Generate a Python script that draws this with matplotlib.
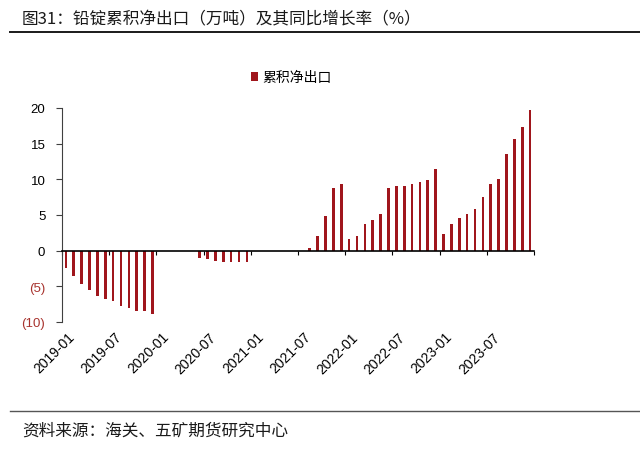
import numpy as np
import matplotlib
matplotlib.use('Agg')
import matplotlib.pyplot as plt
import matplotlib.transforms as mtransforms

plt.rcParams['font.family'] = ['Liberation Sans', 'Noto Sans CJK SC', 'DejaVu Sans']

# monthly categories 2019-01 .. 2023-12
months = [f"{y}-{m:02d}" for y in range(2019, 2024) for m in range(1, 13)]

# cumulative net export (10k tonnes)
net_2019 = [-2.4, -3.6, -4.7, -5.5, -6.3, -6.8, -7.1, -7.8, -8.0, -8.4, -8.5, -8.9]
net_2020 = [0, 0, 0, 0, 0, -1.1, -1.2, -1.5, -1.6, -1.6, -1.6, -1.6]
net_2021 = [0, 0, 0, 0, 0, 0, 0, 0.4, 2.0, 4.8, 8.8, 9.4]
net_2022 = [1.7, 2.0, 3.8, 4.3, 5.2, 8.8, 9.1, 9.1, 9.3, 9.6, 9.9, 11.5]
net_2023 = [2.3, 3.8, 4.6, 5.2, 5.8, 7.5, 9.3, 10.0, 13.6, 15.7, 17.4, 19.7]
net_export = net_2019 + net_2020 + net_2021 + net_2022 + net_2023

yticks = [-10, -5, 0, 5, 10, 15, 20]
ytick_labels = ['(10)', '(5)', '0', '5', '10', '15', '20']

bar_color = '#A0161C'
neg_color = '#A8332E'
cjk = ['Noto Sans CJK SC', 'DejaVu Sans']

fig = plt.figure(figsize=(6.4, 4.56), dpi=100)
ax = fig.add_axes([0.0969, 0.2917, 0.7375, 0.4693])

x = np.arange(len(months))
ax.bar(x, net_export, width=0.34, color=bar_color, label='累积净出口', zorder=2)

ax.set_xlim(-0.5, len(months) - 0.5)
ax.set_ylim(-10, 20)

# axes look
for side in ['top', 'right']:
    ax.spines[side].set_visible(False)
ax.spines['bottom'].set_position(('data', 0))
ax.spines['left'].set_color('#404040')
ax.spines['bottom'].set_color('black')
ax.spines['bottom'].set_linewidth(1.2)

ax.set_xticks(np.arange(-0.5, len(months), 6))
ax.tick_params(axis='x', direction='out', length=3, labelbottom=False, color='black')
ax.set_yticks(yticks)
ax.set_yticklabels(ytick_labels, fontsize=9.5)
ax.tick_params(axis='y', direction='out', length=4, color='#404040', pad=8)
for lbl, v in zip(ax.get_yticklabels(), yticks):
    lbl.set_color(neg_color if v < 0 else 'black')

# category labels every 6 months, under the plot
trans = mtransforms.blended_transform_factory(ax.transData, ax.transAxes)
for i in range(0, len(months), 6):
    ax.text(i + 0.2, -0.035, months[i], transform=trans, rotation=45,
            ha='right', va='top', rotation_mode='anchor', fontsize=10)

ax.legend(loc='center', bbox_to_anchor=(0.455, 0.828), bbox_transform=fig.transFigure,
          frameon=False, handlelength=0.55, handleheight=0.55, handletextpad=0.3,
          prop={'family': cjk, 'size': 10})

# title, source and rules
fig.text(0.034, 0.957, '图31：铅锭累积净出口（万吨）及其同比增长率（%）',
         fontsize=12, family=cjk, va='center', ha='left', color='#1A1A1A')
fig.add_artist(plt.Line2D([0.016, 1.0], [0.927, 0.927], color='#1A1A1A', lw=1.4))
fig.text(0.034, 0.055, '资料来源：海关、五矿期货研究中心',
         fontsize=12, family=cjk, va='center', ha='left', color='#1A1A1A')
fig.add_artist(plt.Line2D([0.016, 1.0], [0.097, 0.097], color='#555555', lw=1.0))

fig.savefig('out.png', dpi=100)
